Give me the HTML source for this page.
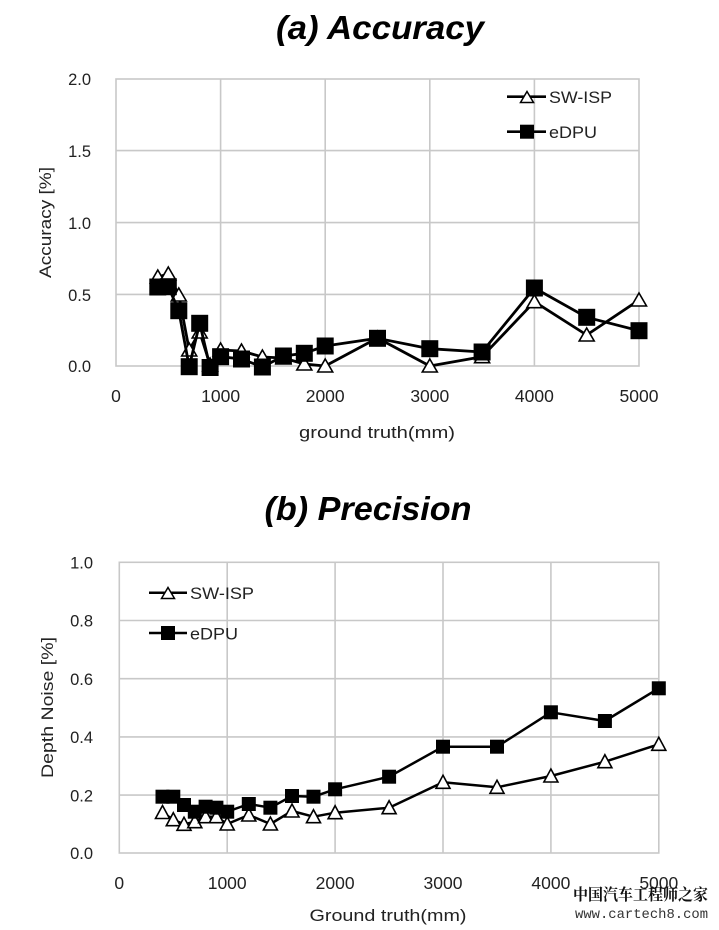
<!DOCTYPE html>
<html><head><meta charset="utf-8"><style>
html,body{margin:0;padding:0;background:#fff;}
svg{display:block;}
text{font-family:"Liberation Sans",sans-serif;fill:#222;}
</style></head><body>
<svg width="719" height="930" viewBox="0 0 719 930" xmlns="http://www.w3.org/2000/svg">
<defs>
<g id="sq17"><rect x="-8.5" y="-8.5" width="17" height="17" fill="#000"/></g>
<g id="tr15"><polygon points="0,-7 7.5,6 -7.5,6" fill="#fff" stroke="#000" stroke-width="1.6"/></g>
<g id="sq14"><rect x="-7" y="-7" width="14" height="14" fill="#000"/></g>
<g id="tr14"><polygon points="0,-7 7,6 -7,6" fill="#fff" stroke="#000" stroke-width="1.6"/></g>
<g id="lsq"><rect x="-7" y="-7" width="14" height="14" fill="#000"/></g>
<g id="ltr"><polygon points="0,-6 6.5,5 -6.5,5" fill="#fff" stroke="#000" stroke-width="1.5"/></g>
</defs>

<!-- ===== Chart (a) ===== -->
<text x="380" y="39" font-size="33" font-weight="bold" font-style="italic" text-anchor="middle" textLength="208" lengthAdjust="spacingAndGlyphs" style="fill:#000">(a) Accuracy</text>
<g stroke="#c8c8c8" stroke-width="1.6" fill="none">
<rect x="116" y="79" width="523" height="287"/>
<line x1="116" y1="150.6" x2="639" y2="150.6"/>
<line x1="116" y1="222.6" x2="639" y2="222.6"/>
<line x1="116" y1="294.4" x2="639" y2="294.4"/>
<line x1="220.6" y1="79" x2="220.6" y2="366"/>
<line x1="325.2" y1="79" x2="325.2" y2="366"/>
<line x1="429.8" y1="79" x2="429.8" y2="366"/>
<line x1="534.4" y1="79" x2="534.4" y2="366"/>
</g>
<g font-size="16.5" text-anchor="end">
<text x="91" y="85">2.0</text>
<text x="91" y="157">1.5</text>
<text x="91" y="229">1.0</text>
<text x="91" y="301">0.5</text>
<text x="91" y="372">0.0</text>
</g>
<g font-size="17.5" text-anchor="middle">
<text x="116" y="402">0</text>
<text x="220.6" y="402">1000</text>
<text x="325.2" y="402">2000</text>
<text x="429.8" y="402">3000</text>
<text x="534.4" y="402">4000</text>
<text x="639" y="402">5000</text>
</g>
<text x="377" y="438" font-size="17" text-anchor="middle" textLength="156" lengthAdjust="spacingAndGlyphs">ground truth(mm)</text>
<text transform="translate(51,222.5) rotate(-90)" font-size="16.5" text-anchor="middle" textLength="111" lengthAdjust="spacingAndGlyphs">Accuracy [%]</text>

<!-- SW-ISP a -->
<polyline fill="none" stroke="#000" stroke-width="2.8" stroke-linejoin="round" points="157.8,277 168.3,274 178.8,295 189.2,350 199.7,332 210.1,365 220.6,350 241.5,351 262.4,357 283.4,358 304.3,364 325.2,366 377.5,338 429.8,366 482.1,356.7 534.4,301.7 586.7,335 639,300"/>
<g>
<use href="#tr15" x="157.8" y="277"/><use href="#tr15" x="168.3" y="274"/><use href="#tr15" x="178.8" y="295"/>
<use href="#tr15" x="189.2" y="350"/><use href="#tr15" x="199.7" y="332"/><use href="#tr15" x="210.1" y="365"/>
<use href="#tr15" x="220.6" y="350"/><use href="#tr15" x="241.5" y="351"/><use href="#tr15" x="262.4" y="357"/>
<use href="#tr15" x="283.4" y="358"/><use href="#tr15" x="304.3" y="364"/><use href="#tr15" x="325.2" y="366"/>
<use href="#tr15" x="377.5" y="338"/><use href="#tr15" x="429.8" y="366"/><use href="#tr15" x="482.1" y="356.7"/>
<use href="#tr15" x="534.4" y="301.7"/><use href="#tr15" x="586.7" y="335"/><use href="#tr15" x="639" y="300"/>
</g>
<!-- eDPU a -->
<polyline fill="none" stroke="#000" stroke-width="2.8" stroke-linejoin="round" points="157.8,287 168.3,286.7 178.8,310.7 189.2,366.7 199.7,323.3 210.1,367.5 220.6,356.7 241.5,359 262.4,367 283.4,356 304.3,353.3 325.2,346 377.5,338.3 429.8,348.7 482.1,352 534.4,288 586.7,317.3 639,330.7"/>
<g>
<use href="#sq17" x="157.8" y="287"/><use href="#sq17" x="168.3" y="286.7"/><use href="#sq17" x="178.8" y="310.7"/>
<use href="#sq17" x="189.2" y="366.7"/><use href="#sq17" x="199.7" y="323.3"/><use href="#sq17" x="210.1" y="367.5"/>
<use href="#sq17" x="220.6" y="356.7"/><use href="#sq17" x="241.5" y="359"/><use href="#sq17" x="262.4" y="367"/>
<use href="#sq17" x="283.4" y="356"/><use href="#sq17" x="304.3" y="353.3"/><use href="#sq17" x="325.2" y="346"/>
<use href="#sq17" x="377.5" y="338.3"/><use href="#sq17" x="429.8" y="348.7"/><use href="#sq17" x="482.1" y="352"/>
<use href="#sq17" x="534.4" y="288"/><use href="#sq17" x="586.7" y="317.3"/><use href="#sq17" x="639" y="330.7"/>
</g>
<!-- legend a -->
<line x1="507" y1="96.7" x2="546" y2="96.7" stroke="#000" stroke-width="2.6"/>
<use href="#ltr" x="527" y="97.5"/>
<text x="549" y="103" font-size="17" textLength="63" lengthAdjust="spacingAndGlyphs">SW-ISP</text>
<line x1="507" y1="131.7" x2="546" y2="131.7" stroke="#000" stroke-width="2.6"/>
<use href="#lsq" x="527" y="131.7"/>
<text x="549" y="138" font-size="17" textLength="48" lengthAdjust="spacingAndGlyphs">eDPU</text>

<!-- ===== Chart (b) ===== -->
<text x="368" y="520" font-size="33" font-weight="bold" font-style="italic" text-anchor="middle" textLength="207" lengthAdjust="spacingAndGlyphs" style="fill:#000">(b) Precision</text>
<g stroke="#c8c8c8" stroke-width="1.6" fill="none">
<rect x="119.3" y="562.3" width="539.5" height="290.7"/>
<line x1="119.3" y1="620.5" x2="658.8" y2="620.5"/>
<line x1="119.3" y1="678.7" x2="658.8" y2="678.7"/>
<line x1="119.3" y1="736.9" x2="658.8" y2="736.9"/>
<line x1="119.3" y1="795.1" x2="658.8" y2="795.1"/>
<line x1="227.2" y1="562.3" x2="227.2" y2="853"/>
<line x1="335.1" y1="562.3" x2="335.1" y2="853"/>
<line x1="443" y1="562.3" x2="443" y2="853"/>
<line x1="550.9" y1="562.3" x2="550.9" y2="853"/>
</g>
<g font-size="16.5" text-anchor="end">
<text x="93" y="568.5">1.0</text>
<text x="93" y="626.7">0.8</text>
<text x="93" y="684.9">0.6</text>
<text x="93" y="743.1">0.4</text>
<text x="93" y="801.3">0.2</text>
<text x="93" y="859.2">0.0</text>
</g>
<g font-size="17.5" text-anchor="middle">
<text x="119.3" y="889">0</text>
<text x="227.2" y="889">1000</text>
<text x="335.1" y="889">2000</text>
<text x="443" y="889">3000</text>
<text x="550.9" y="889">4000</text>
<text x="658.8" y="889">5000</text>
</g>
<text x="388" y="921" font-size="17" text-anchor="middle" textLength="157" lengthAdjust="spacingAndGlyphs">Ground truth(mm)</text>
<text transform="translate(53,707.5) rotate(-90)" font-size="16.5" text-anchor="middle" textLength="141" lengthAdjust="spacingAndGlyphs">Depth Noise [%]</text>

<!-- SW-ISP b -->
<polyline fill="none" stroke="#000" stroke-width="2.5" stroke-linejoin="round" points="162.5,812.5 173.3,819.7 184,824.3 194.8,821.7 205.6,816.7 216.4,816.7 227.2,824 248.8,815 270.4,824 292,811 313.5,816.7 335.1,812.7 389.1,807.7 443,782.3 497,787.3 550.9,776 604.9,761.7 658.8,744.3"/>
<g>
<use href="#tr14" x="162.5" y="812.5"/><use href="#tr14" x="173.3" y="819.7"/><use href="#tr14" x="184" y="824.3"/>
<use href="#tr14" x="194.8" y="821.7"/><use href="#tr14" x="205.6" y="816.7"/><use href="#tr14" x="216.4" y="816.7"/>
<use href="#tr14" x="227.2" y="824"/><use href="#tr14" x="248.8" y="815"/><use href="#tr14" x="270.4" y="824"/>
<use href="#tr14" x="292" y="811"/><use href="#tr14" x="313.5" y="816.7"/><use href="#tr14" x="335.1" y="812.7"/>
<use href="#tr14" x="389.1" y="807.7"/><use href="#tr14" x="443" y="782.3"/><use href="#tr14" x="497" y="787.3"/>
<use href="#tr14" x="550.9" y="776"/><use href="#tr14" x="604.9" y="761.7"/><use href="#tr14" x="658.8" y="744.3"/>
</g>
<!-- eDPU b -->
<polyline fill="none" stroke="#000" stroke-width="2.5" stroke-linejoin="round" points="162.5,796.7 173.3,796.7 184,805 194.8,811.7 205.6,806.7 216.4,807.7 227.2,811.7 248.8,804 270.4,807.7 292,796 313.5,796.7 335.1,789.3 389.1,776.7 443,746.7 497,746.7 550.9,712.3 604.9,721 658.8,688.3"/>
<g>
<use href="#sq14" x="162.5" y="796.7"/><use href="#sq14" x="173.3" y="796.7"/><use href="#sq14" x="184" y="805"/>
<use href="#sq14" x="194.8" y="811.7"/><use href="#sq14" x="205.6" y="806.7"/><use href="#sq14" x="216.4" y="807.7"/>
<use href="#sq14" x="227.2" y="811.7"/><use href="#sq14" x="248.8" y="804"/><use href="#sq14" x="270.4" y="807.7"/>
<use href="#sq14" x="292" y="796"/><use href="#sq14" x="313.5" y="796.7"/><use href="#sq14" x="335.1" y="789.3"/>
<use href="#sq14" x="389.1" y="776.7"/><use href="#sq14" x="443" y="746.7"/><use href="#sq14" x="497" y="746.7"/>
<use href="#sq14" x="550.9" y="712.3"/><use href="#sq14" x="604.9" y="721"/><use href="#sq14" x="658.8" y="688.3"/>
</g>
<!-- legend b -->
<line x1="149" y1="592.7" x2="187" y2="592.7" stroke="#000" stroke-width="2.5"/>
<use href="#ltr" x="168" y="593.5"/>
<text x="190" y="599" font-size="17" textLength="64" lengthAdjust="spacingAndGlyphs">SW-ISP</text>
<line x1="149" y1="633" x2="187" y2="633" stroke="#000" stroke-width="2.5"/>
<use href="#lsq" x="168" y="633"/>
<text x="190" y="639.5" font-size="17" textLength="48" lengthAdjust="spacingAndGlyphs">eDPU</text>

<!-- watermark -->
<text x="573" y="900" font-size="16" font-weight="bold" textLength="135" lengthAdjust="spacingAndGlyphs" style="font-family:'Liberation Serif','Noto Serif CJK SC',serif;fill:#111">中国汽车工程师之家</text>
<text x="575" y="918" font-size="14" textLength="133" lengthAdjust="spacingAndGlyphs" style="font-family:'Liberation Mono',monospace;fill:#333">www.cartech8.com</text>
</svg>
</body></html>
